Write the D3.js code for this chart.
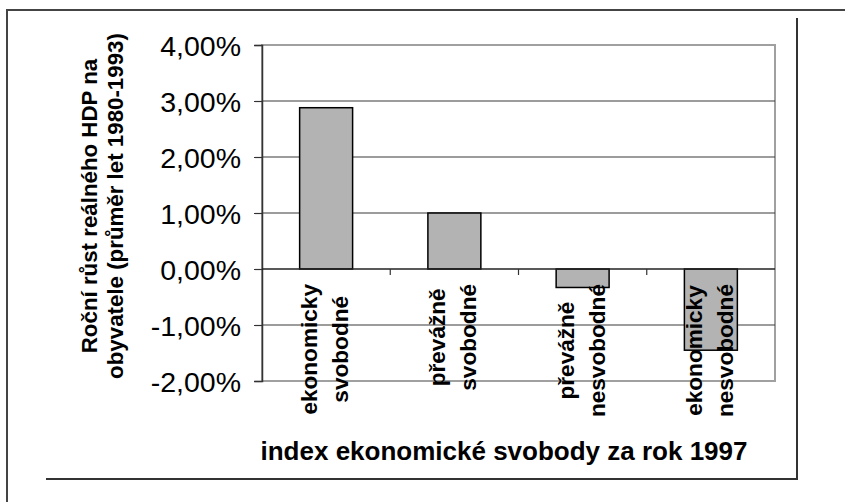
<!DOCTYPE html>
<html>
<head>
<meta charset="utf-8">
<script src="https://cdn.jsdelivr.net/npm/d3@7"></script>
<style>
  body { margin: 0; background: #fff; }
  svg { display: block; font-family: "Liberation Sans", Arial, sans-serif; }
</style>
</head>
<body>
<div id="chart"></div>
<script>
// data
var categories = [
    ["ekonomicky", "svobodné"],
    ["převážně", "svobodné"],
    ["převážně", "nesvobodné"],
    ["ekonomicky", "nesvobodné"]
];
var values = [2.88, 1.0, -0.33, -1.45];
var yTicks = [-2, -1, 0, 1, 2, 3, 4];
var yTitle = ["Roční růst reálného HDP na", "obyvatele (průměr let 1980-1993)"];
var xTitle = "index ekonomické svobody za rok 1997";

var width = 845, height = 502;
var plot = {left: 262, right: 775, top: 45, bottom: 381};

var svg = d3.select("#chart").append("svg")
        .attr("width", width)
        .attr("height", height);

// outer frame lines (page/border look)
svg.append("path")
        .attr("d", "M7,502 L7,10 L845,10")
        .attr("fill", "none")
        .attr("stroke", "#444")
        .attr("stroke-width", 2);
svg.append("path")
        .attr("d", "M797,18 L797,479 L46,479")
        .attr("fill", "none")
        .attr("stroke", "#333")
        .attr("stroke-width", 2);

var x = d3.scaleBand()
        .domain(d3.range(categories.length))
        .range([plot.left, plot.right])
        .paddingInner(0.587)
        .paddingOuter(0.2935);

var y = d3.scaleLinear()
        .domain([-2, 4])
        .range([plot.bottom, plot.top]);

// plot area border
svg.append("rect")
        .attr("x", plot.left)
        .attr("y", plot.top)
        .attr("width", plot.right - plot.left)
        .attr("height", plot.bottom - plot.top)
        .attr("fill", "none")
        .attr("stroke", "#a0a0a0")
        .attr("stroke-width", 2);

// gridlines
svg.selectAll(".grid")
        .data(yTicks.filter(function (d) { return d !== 0 && d !== 4 && d !== -2; }))
        .enter().append("line")
        .attr("class", "grid")
        .attr("x1", plot.left)
        .attr("x2", plot.right)
        .attr("y1", function (d) { return y(d); })
        .attr("y2", function (d) { return y(d); })
        .attr("stroke", "#3a3a3a")
        .attr("stroke-width", 1.2);

// bars
svg.selectAll(".bar")
        .data(values)
        .enter().append("rect")
        .attr("class", "bar")
        .attr("x", function (d, i) { return x(i); })
        .attr("width", x.bandwidth())
        .attr("y", function (d) { return y(Math.max(0, d)); })
        .attr("height", function (d) { return Math.abs(y(d) - y(0)); })
        .attr("fill", "#b3b3b3")
        .attr("stroke", "#000")
        .attr("stroke-width", 1.5);

// y axis
var yAxis = d3.axisLeft(y)
        .tickValues(yTicks)
        .tickSize(8)
        .tickPadding(13)
        .tickFormat(function (d) { return d3.format(".2f")(d).replace(".", ",").replace("−", "-") + "%"; });

var gy = svg.append("g")
        .attr("transform", "translate(" + plot.left + ",0)")
        .call(yAxis);
gy.select(".domain").attr("stroke", "#333").attr("stroke-width", 1.5);
gy.selectAll(".tick line").attr("stroke", "#333").attr("stroke-width", 1.2);
gy.selectAll(".tick text")
        .attr("font-family", "Liberation Sans, Arial, sans-serif")
        .attr("font-size", 28.5)
        .attr("fill", "#000")
        .attr("dy", "0.36em");

// x axis at zero
var boundaries = d3.range(categories.length + 1).map(function (i) {
    return plot.left + i * x.step();
});
svg.append("line")
        .attr("x1", plot.left)
        .attr("x2", plot.right)
        .attr("y1", y(0))
        .attr("y2", y(0))
        .attr("stroke", "#222")
        .attr("stroke-width", 1.5);
svg.selectAll(".xtick")
        .data(boundaries.slice(1, -1))
        .enter().append("line")
        .attr("class", "xtick")
        .attr("x1", function (d) { return d; })
        .attr("x2", function (d) { return d; })
        .attr("y1", y(0))
        .attr("y2", y(0) + 6)
        .attr("stroke", "#333")
        .attr("stroke-width", 1.2);

// category labels, rotated
var labelTop = 284;
categories.forEach(function (lines, i) {
    var cx = x(i) + x.bandwidth() / 2;
    var g = svg.append("g")
            .attr("transform", "translate(" + cx + ",0) rotate(-90)");
    var texts = lines.map(function (t, k) {
        return g.append("text")
                .attr("font-size", 22.6)
                .attr("font-weight", "bold")
                .attr("fill", "#000")
                .attr("text-anchor", "middle")
                .attr("y", k === 0 ? -9 : 22)
                .text(t);
    });
    var maxLen = d3.max(texts, function (t) { return t.node().getComputedTextLength(); });
    texts.forEach(function (t) {
        t.attr("x", -(labelTop + maxLen / 2));
    });
});

// y title
var gt = svg.append("g")
        .attr("transform", "translate(0,206) rotate(-90)");
yTitle.forEach(function (t, k) {
    gt.append("text")
            .attr("x", 0)
            .attr("y", k === 0 ? 97 : 123)
            .attr("text-anchor", "middle")
            .attr("font-size", 22.3)
            .attr("font-weight", "bold")
            .attr("fill", "#000")
            .text(t);
});

// x title
svg.append("text")
        .attr("x", 504)
        .attr("y", 460)
        .attr("text-anchor", "middle")
        .attr("font-size", 26)
        .attr("font-weight", "bold")
        .attr("fill", "#000")
        .text(xTitle);
</script>
</body>
</html>
